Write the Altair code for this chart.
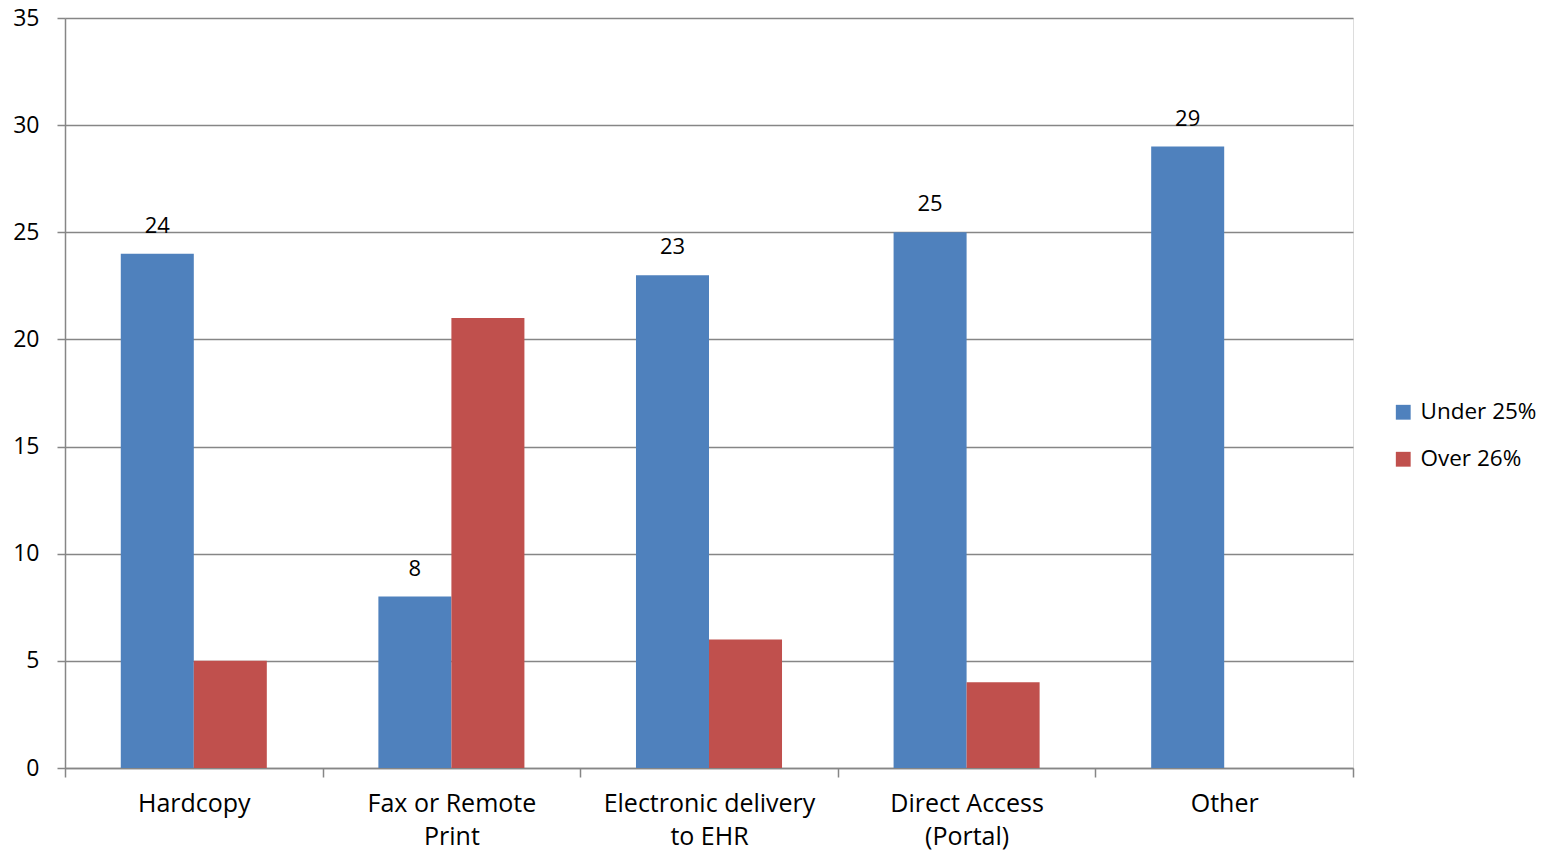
import altair as alt
import pandas as pd

categories = ["Hardcopy", "Fax or Remote Print", "Electronic delivery to EHR", "Direct Access (Portal)", "Other"]
label_lines = [["Hardcopy"], ["Fax or Remote", "Print"], ["Electronic delivery", "to EHR"], ["Direct Access", "(Portal)"], ["Other"]]
series = ["Under 25%", "Over 26%"]
under_25 = [24, 8, 23, 25, 29]
over_26 = [5, 21, 6, 4, None]
colors = ["#4F81BD", "#C0504D"]

rows = []
for c, u, o in zip(categories, under_25, over_26):
    rows.append({"category": c, "series": series[0], "value": u})
    if o is not None:
        rows.append({"category": c, "series": series[1], "value": o})
df = pd.DataFrame(rows)

# label expression for two-line category labels
parts = []
for c, lines in zip(categories, label_lines):
    arr = "[" + ",".join("'" + l + "'" for l in lines) + "]"
    parts.append(f"datum.label == '{c}' ? {arr} : ")
label_expr = "".join(parts) + "datum.label"

FONT = "Open Sans"
GRID = "#868686"

x = alt.X("category:N", sort=categories, title=None,
          scale=alt.Scale(paddingInner=0, paddingOuter=0),
          axis=alt.Axis(labelAngle=0, labelFontSize=25, labelFont=FONT, labelColor="#000",
                        labelPadding=14, labelLineHeight=33, labelExpr=label_expr, labelLimit=0,
                        tickBand="extent", tickSize=9, tickColor=GRID, tickWidth=1.5,
                        domainColor=GRID, domainWidth=1.5, grid=False))
xoff = alt.XOffset("series:N", sort=series,
                   scale=alt.Scale(paddingInner=0, paddingOuter=0.764))
y = alt.Y("value:Q", title=None,
          scale=alt.Scale(domain=[0, 35], nice=False),
          axis=alt.Axis(values=[0, 5, 10, 15, 20, 25, 30, 35], labelFontSize=23, labelFont=FONT,
                        labelColor="#000", labelPadding=18, tickSize=8, tickColor=GRID,
                        tickWidth=1.5, domainColor=GRID, domainWidth=1.5,
                        gridColor=GRID, gridWidth=1.5))

bars = alt.Chart(df).mark_bar().encode(
    x=x, xOffset=xoff, y=y,
    color=alt.Color("series:N", sort=series, title=None,
                    scale=alt.Scale(domain=series, range=colors),
                    legend=alt.Legend(orient="none", legendX=1327, legendY=383,
                                      symbolType="square", symbolSize=220, symbolStrokeWidth=0,
                                      labelFontSize=22.5, labelFont=FONT, labelColor="#000",
                                      rowPadding=24, labelOffset=6)),
)

labels = alt.Chart(df).transform_filter(
    alt.datum.series == series[0]
).mark_text(dy=-28, fontSize=22, font=FONT, color="#000").encode(
    x=alt.X("category:N", sort=categories), xOffset=xoff, y=alt.Y("value:Q"),
    text=alt.Text("value:Q"),
)

chart = alt.layer(bars, labels).properties(
    width=1288, height=750,
    autosize=alt.AutoSizeParams(type="none"),
    padding={"left": 57, "top": 10, "right": 187, "bottom": 85},
).configure_view(stroke=None).configure(background="white")

chart.save("out.html", embed_options={"renderer": "svg", "actions": False})
